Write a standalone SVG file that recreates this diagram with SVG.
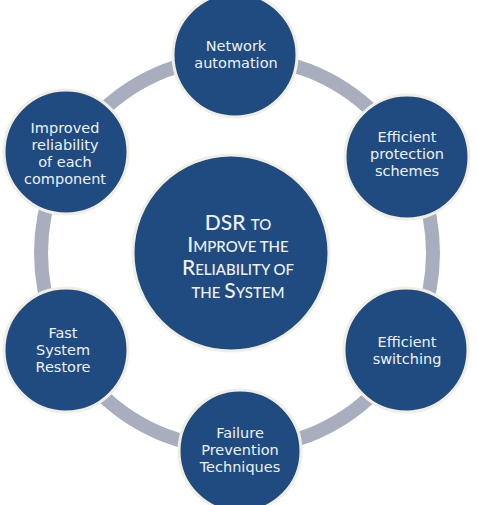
<svg xmlns="http://www.w3.org/2000/svg" width="477" height="505" viewBox="0 0 477 505">
<style>
.node{fill:#1f4b80;stroke:#f1efe4;stroke-width:3}
.lbl{font-family:"DejaVu Sans",Verdana,sans-serif;font-size:14.5px;fill:#eef2f8;text-anchor:middle}
.ctr{font-family:Lato,"Open Sans",sans-serif;fill:#eef2f8;text-anchor:middle;font-size:21px;font-weight:500}
.sc{font-size:15px}
</style>
<rect width="477" height="505" fill="#ffffff"/>
<g id="connectors">
<circle cx="237" cy="253" r="196" fill="none" stroke="#a9aebf" stroke-width="14"/>
</g>
<g id="center">
<circle class="node" cx="231" cy="253" r="98"/>
<text class="ctr"><tspan x="238" y="230">DSR <tspan class="sc">TO</tspan></tspan><tspan x="238" y="252">I<tspan class="sc">MPROVE THE</tspan></tspan><tspan x="238" y="275">R<tspan class="sc">ELIABILITY OF</tspan></tspan><tspan x="238" y="298"><tspan class="sc">THE </tspan>S<tspan class="sc">YSTEM</tspan></tspan></text>
</g>
<g id="n1">
<circle class="node" cx="235" cy="55" r="62"/>
<text class="lbl"><tspan x="236" y="51">Network</tspan><tspan x="236" y="68">automation</tspan></text>
</g>
<g id="n2">
<circle class="node" cx="407" cy="157" r="62"/>
<text class="lbl"><tspan x="407" y="142">Efficient</tspan><tspan x="407" y="159">protection</tspan><tspan x="407" y="176">schemes</tspan></text>
</g>
<g id="n3">
<circle class="node" cx="406" cy="350" r="62"/>
<text class="lbl"><tspan x="407" y="347">Efficient</tspan><tspan x="407" y="364">switching</tspan></text>
</g>
<g id="n4">
<circle class="node" cx="240" cy="451" r="61"/>
<text class="lbl"><tspan x="240" y="438">Failure</tspan><tspan x="240" y="455">Prevention</tspan><tspan x="240" y="472">Techniques</tspan></text>
</g>
<g id="n5">
<circle class="node" cx="66" cy="350" r="62"/>
<text class="lbl"><tspan x="63" y="338">Fast</tspan><tspan x="63" y="355">System</tspan><tspan x="63" y="372">Restore</tspan></text>
</g>
<g id="n6">
<circle class="node" cx="66" cy="152" r="62"/>
<text class="lbl"><tspan x="65" y="133">Improved</tspan><tspan x="65" y="150">reliability</tspan><tspan x="65" y="167">of each</tspan><tspan x="65" y="184">component</tspan></text>
</g>
</svg>
